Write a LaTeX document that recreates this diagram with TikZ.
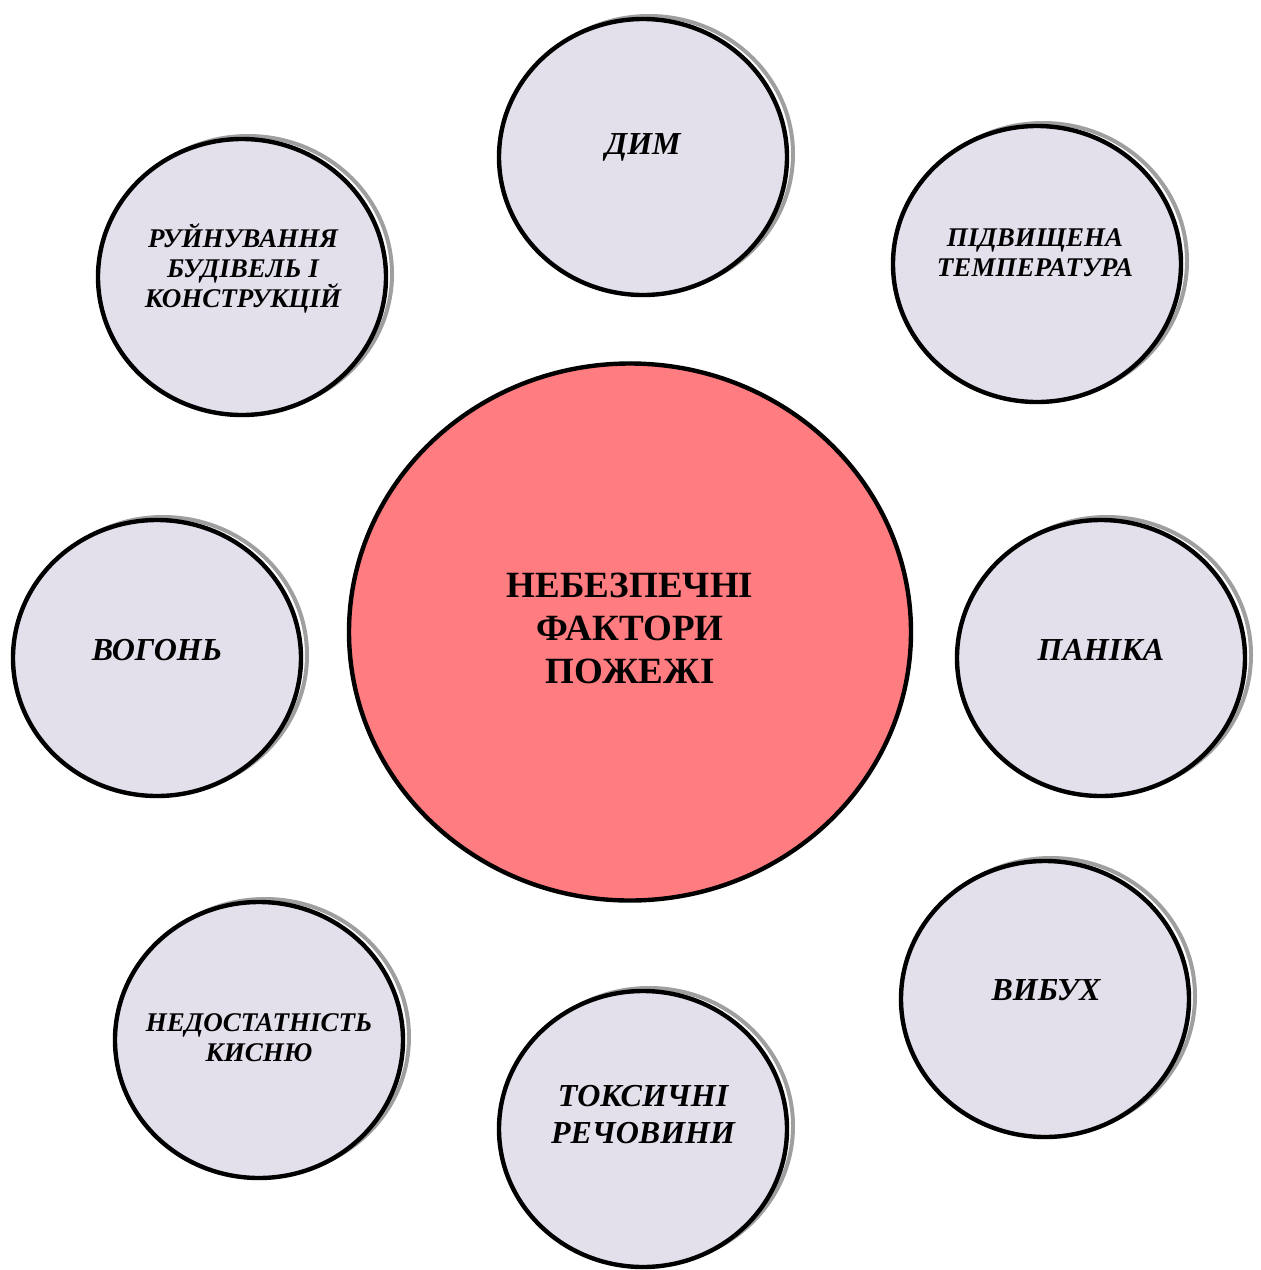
\documentclass[tikz,border=0pt]{standalone}
\usepackage{fontspec}
\setmainfont{Liberation Serif}
\usetikzlibrary{shapes.geometric,shadows}

\definecolor{lilac}{RGB}{227,223,235}
\definecolor{rose}{RGB}{255,124,128}

\tikzset{
    factor/.style={ellipse, draw, line width=2.2pt, fill=lilac, inner sep=0pt,
        minimum width=144pt, minimum height=138pt,
        drop shadow={shadow xshift=3pt, shadow yshift=1.5pt, fill=none,
            draw=gray!75, line width=2pt, opacity=1}},
    hazard/.style={ellipse, draw, line width=2.2pt, fill=rose, inner sep=0pt,
        minimum width=281pt, minimum height=268.5pt},
    ftext/.style={align=center, inner sep=0pt,
        font=\fontsize{13.5}{15}\selectfont\bfseries\itshape},
    fbig/.style={ftext, font=\fontsize{16}{18.5}\selectfont\bfseries\itshape},
    htext/.style={align=center, inner sep=0pt,
        font=\fontsize{18.5}{21.5}\selectfont\bfseries}
}

\begin{document}
\begin{tikzpicture}[x=0.5pt, y=-0.5pt]
    \useasboundingbox (0,0) rectangle (1261,1270);

    \node[hazard] (F) at (630, 632) {};
    \node[htext] (F-t) at (630, 628) {НЕБЕЗПЕЧНІ\\ФАКТОРИ\\ПОЖЕЖІ};

    \node[factor] (dym)  at (643,  157) {};
    \node[factor] (temp) at (1037, 264) {};
    \node[factor] (ruin) at (242,  277) {};
    \node[factor] (fire) at (157,  658) {};
    \node[factor] (pan)  at (1101, 658) {};
    \node[factor] (boom) at (1045, 999) {};
    \node[factor] (oxy)  at (259, 1040) {};
    \node[factor] (tox)  at (643, 1129) {};

    \node[fbig]  (dym-t)  at (643,  147) {ДИМ};
    \node[ftext] (temp-t) at (1035, 253) {ПІДВИЩЕНА\\ТЕМПЕРАТУРА};
    \node[ftext] (ruin-t) at (243,  268) {РУЙНУВАННЯ\\БУДІВЕЛЬ І\\КОНСТРУКЦІЙ};
    \node[fbig]  (fire-t) at (157,  650) {ВОГОНЬ};
    \node[fbig]  (pan-t)  at (1101, 650) {ПАНІКА};
    \node[fbig]  (boom-t) at (1046, 990) {ВИБУХ};
    \node[ftext] (oxy-t)  at (259, 1038) {НЕДОСТАТНІСТЬ\\КИСНЮ};
    \node[fbig]  (tox-t)  at (643, 1115) {ТОКСИЧНІ\\РЕЧОВИНИ};
\end{tikzpicture}
\end{document}
